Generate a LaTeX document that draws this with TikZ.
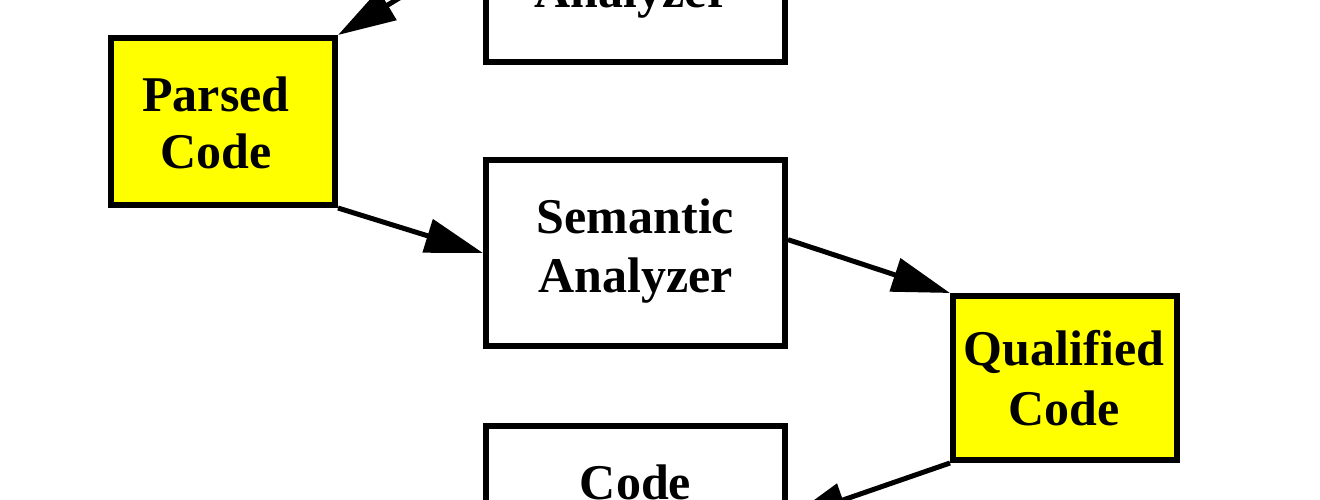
\documentclass[tikz,border=0pt]{standalone}
\usepackage{fontspec}
\setmainfont{Liberation Serif}
\usetikzlibrary{arrows.meta}
\definecolor{datayellow}{RGB}{255,255,0}
\begin{document}
\begin{tikzpicture}[x=1pt,y=-1pt,
  box/.style={draw=black, line width=6pt, rectangle, inner sep=0pt},
  data/.style={box, fill=datayellow, minimum width=224pt, minimum height=167pt},
  proc/.style={box, fill=white, minimum width=299pt, minimum height=186pt},
  lbl/.style={font=\bfseries\fontsize{50}{59}\selectfont, inner sep=0pt, anchor=base},
  flow/.style={line width=5pt, -{Triangle[length=58pt,width=34pt]}}]
\useasboundingbox (0,0) rectangle (1320,500);
\clip (0,0) rectangle (1320,500);
% boxes
\node[proc] (syn) at (635.5,-31) {};
\node[data] (parsed) at (223,121.5) {};
\node[proc] (sem) at (635.5,253) {};
\node[data, minimum height=164pt] (qual) at (1065,378) {};
\node[proc] (gen) at (635.5,519) {};
% labels
\node[lbl] (synB) at (632,8) {Analyzer};
\node[lbl] (parsedA) at (216,112) {Parsed};
\node[lbl] (parsedB) at (216,168) {Code};
\node[lbl] (semA) at (635.5,233) {Semantic};
\node[lbl] (semB) at (635.5,292) {Analyzer};
\node[lbl] (qualA) at (1064,365) {Qualified};
\node[lbl] (qualB) at (1064,425) {Code};
\node[lbl] (genA) at (635.5,499) {Code};
% connectors
\draw[flow] (syn.172) -- (parsed.north east);
\draw[flow] (parsed.south east) -- (sem.west);
\draw[flow] (sem.5) -- (qual.north west);
\draw[flow] (qual.south west) -- (gen.east);
\end{tikzpicture}
\end{document}
